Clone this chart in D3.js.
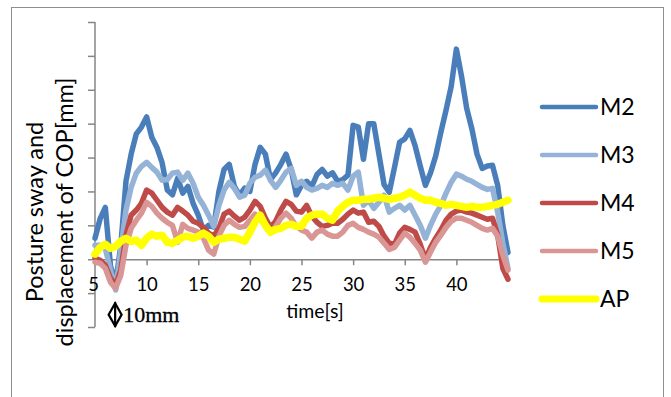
<!DOCTYPE html>
<html>
<head>
<meta charset="utf-8">
<script src="https://cdn.jsdelivr.net/npm/d3@7"></script>
<style>
  body { margin: 0; background: #fff; }
  svg { display: block; font-family: Lato, "Open Sans", sans-serif; }
</style>
</head>
<body>
<div id="canvas"></div>
<script>
// Data (time in s, displacement in mm)

let times = [5, 5.5, 6, 6.5, 7, 7.5, 8, 8.5, 9, 9.5, 10, 10.5, 11, 11.5, 12, 12.5, 13, 13.5, 14, 14.5,
  15, 15.5, 16, 16.5, 17, 17.5, 18, 18.5, 19, 19.5, 20, 20.5, 21, 21.5, 22, 22.5, 23, 23.5, 24, 24.5,
  25, 25.5, 26, 26.5, 27, 27.5, 28, 28.5, 29, 29.5, 30, 30.5, 31, 31.5, 32, 32.5, 33, 33.5, 34, 34.5,
  35, 35.5, 36, 36.5, 37, 37.5, 38, 38.5, 39, 39.5, 40, 40.5, 41, 41.5, 42, 42.5, 43, 43.5, 44, 44.5, 45];

let m2 = [6.2, 12, 15.3, -2, -7, 4, 23, 31, 37, 39, 42, 36, 33, 28.5, 20.4, 19, 23.9, 19.5, 21.5, 16.5,
  13, 8.5, 10, 9.5, 20, 26.5, 28, 21.5, 18.9, 21, 20, 28, 33, 31, 23.5, 25.5, 28, 31, 26.5, 19,
  21.8, 23, 21.5, 25, 26.5, 24.5, 25.5, 23, 23.5, 24.8, 39.5, 39, 29.5, 40, 40, 31, 22, 19.8, 27, 34.5,
  35.5, 38, 33.5, 27.5, 21.8, 25.5, 30.5, 37.5, 44, 51, 62, 54, 44.5, 38.5, 31, 26.8, 27.5, 27.7, 21.8, 10, 2];

let m3 = [4.1, 4.1, 3.2, -3.2, -9.1, 2.7, 14.5, 21.2, 25.4, 27.4, 28.6, 27.1, 25.7, 23.3, 23.5, 25.4, 25.7, 23.3, 25.4, 22.4,
  18.3, 15.9, 13, 9.7, 15.9, 20.4, 22.7, 20.9, 18.3, 18.9, 22.4, 24.2, 24.8, 26.3, 23.3, 21.2, 23.3, 25.7, 26.8, 21.8,
  23, 21.2, 20.4, 20.9, 21.8, 21.2, 22.4, 21.8, 22.4, 20.4, 24.5, 25.7, 15.9, 17.4, 15, 16.8, 18.9, 13.9, 15, 15.9,
  14.5, 15.9, 13, 10, 6.2, 10, 13.3, 15.9, 19.5, 22.7, 25.1, 24.5, 23.6, 23, 22.1, 21.2, 20.6, 20.9, 13.9, 4.7, -2.7];

let m4 = [0.3, -0.3, -1.8, -5.6, -7.7, -3.2, 7.1, 13, 14.5, 16.5, 20.4, 19.5, 17.4, 15.3, 13.9, 13, 15.3, 14.2, 13, 11.2,
  10.6, 9.4, 7.7, 6.8, 9.1, 13.3, 14.2, 12.7, 11.5, 12.4, 14.5, 17.1, 15.6, 12.1, 9.4, 11.2, 14.5, 17.1, 16.2, 14.2,
  13.9, 15.9, 12.7, 10.9, 9.7, 10, 10.6, 10.6, 11.8, 13.3, 14.5, 13.6, 13.9, 10.9, 11.2, 9.7, 6.8, 4.7, 4.4, 7.7,
  9.4, 8.8, 8, 4.4, 0, 3.5, 6.2, 8.6, 11.5, 13.3, 14.2, 14.5, 13.9, 13.6, 13, 12.4, 11.8, 12.1, 7.1, -2.7, -5.9];

let m5 = [-0.9, -1.2, -2.7, -6.8, -8.6, -4.7, 4.1, 9.1, 11.5, 13.6, 16.8, 15.6, 13.6, 12.1, 10.9, 10, 5, 10.3, 9.1, 8.6,
  8, 6.2, 2.7, 1.5, 6.8, 10, 11.5, 10.3, 9.4, 9.7, 11.5, 13.3, 12.1, 9.7, 7.7, 9.7, 12.1, 13.6, 12.1, 9.7,
  8.6, 8, 6.2, 8, 8.6, 7.4, 6.8, 6.8, 8, 10, 10.6, 9.4, 8.8, 8, 7.4, 6.5, 4.7, 2.9, 3.5, 5.6,
  7.7, 6.5, 4.7, 2.7, -0.9, 2.1, 5, 7.1, 9.4, 11.2, 12.1, 12.1, 11.5, 10.9, 10, 9.1, 8.6, 9.1, 6.8, 1.2, -3.2];

let ap = [1.5, 3.5, 4.4, 3.2, 3.8, 5.3, 6.2, 5.3, 5.6, 4.1, 6.2, 7.4, 6.8, 7.1, 5, 4.7, 5.6, 6.5, 6.8, 6.2,
  6.8, 7.7, 6.8, 5, 5.9, 6.2, 6.5, 6.5, 5.9, 5.3, 8, 10.9, 13, 10, 8, 8.8, 9.1, 10, 10.3, 9.7,
  9.7, 12.1, 13, 13.3, 13.3, 12.1, 11.5, 14.2, 15.6, 16.8, 17.4, 17.4, 17.7, 17.7, 18, 18.3, 18, 17.7, 18, 18.3,
  18.9, 19.8, 18.9, 18, 17.4, 17.4, 16.8, 16.5, 15.9, 16.2, 15.9, 15.6, 15.3, 15.6, 15.3, 15.3, 15.6, 15.9, 16.2, 16.8, 17.4];

let seriesNames = ["M2", "M3", "M4", "M5", "AP"];
let seriesValues = [m2, m3, m4, m5, ap];
let seriesColors = ["#4A7EBB", "#95B3D7", "#BE4B48", "#D99694", "#FFFF00"];
let lineWidths = [5.5, 5.5, 5.5, 5.5, 7.5];
let legendWidths = [4.5, 4.5, 4.5, 4.5, 7];

let xTicks = [5, 10, 15, 20, 25, 30, 35, 40];
let yTicks = [-20, -10, 0, 10, 20, 30, 40, 50, 60, 70];

// Titles and labels

let ylab1 = "Posture sway and";
let ylab2 = "displacement of COP[mm]";
let xlab = "time[s]";
let scaleLabel = "10mm";

// Drawing area

let W = 671, H = 397;

let svg = d3.select("#canvas")
    .append("svg")
    .attr("width", W)
    .attr("height", H);

svg.append("rect")
    .attr("x", 11.5).attr("y", 7.5)
    .attr("width", 652).attr("height", 420)
    .style("fill", "#fff")
    .style("stroke", "#8E8E8E")
    .style("stroke-width", 1);

// Scales

let xScale = d3.scaleLinear().domain([5, 45]).range([95, 508]);
let yScale = d3.scaleLinear().domain([-20, 70]).range([327, 22]);

// Axes

let yAxis = svg.append("g")
    .attr("transform", "translate(" + xScale(5) + ",0)")
    .call(d3.axisLeft(yScale).tickValues(yTicks).tickSize(7).tickFormat(""));

let xAxis = svg.append("g")
    .attr("transform", "translate(0," + yScale(0) + ")")
    .call(d3.axisBottom(xScale).tickValues(xTicks).tickSize(6).tickSizeOuter(0).tickPadding(11));

[yAxis, xAxis].forEach(g => {
  g.select(".domain").style("stroke", "#868686").style("stroke-width", 1.5);
  g.selectAll(".tick line").style("stroke", "#868686").style("stroke-width", 1.5);
});
yAxis.select(".domain").attr("d", "M0," + yScale(70) + "V" + yScale(-20));

xAxis.selectAll(".tick text")
    .style("font-family", "Lato, sans-serif")
    .style("font-size", "18.5px")
    .style("fill", "#000")
    .attr("dy", "0.8em");
xAxis.selectAll(".tick").filter(d => d === 5).select("text").attr("dx", "-2");

// Lines

let line = d3.line()
    .x((d, i) => xScale(times[i]))
    .y(d => yScale(d));

seriesValues.forEach((vals, k) => {
  svg.append("path")
      .datum(vals)
      .style("fill", "none")
      .style("stroke", seriesColors[k])
      .style("stroke-width", lineWidths[k])
      .style("stroke-linejoin", "round")
      .style("stroke-linecap", "round")
      .attr("d", line);
});

// Legend

let legend = svg.append("g");
seriesNames.forEach((name, k) => {
  let ly = 107 + k * 48;
  legend.append("line")
      .attr("x1", 542).attr("x2", 596)
      .attr("y1", ly).attr("y2", ly)
      .style("stroke", seriesColors[k])
      .style("stroke-width", legendWidths[k])
      .style("stroke-linecap", "round");
  legend.append("text")
      .attr("x", 600).attr("y", ly)
      .attr("dy", "0.36em")
      .style("font-size", "23px")
      .text(name);
});

// Axis titles

let tcy = 212;
svg.append("text")
    .attr("transform", "translate(43," + tcy + ") rotate(-90)")
    .style("font-size", "23.5px")
    .style("text-anchor", "middle")
    .text(ylab1);
svg.append("text")
    .attr("transform", "translate(73," + tcy + ") rotate(-90)")
    .style("font-size", "23.5px")
    .style("text-anchor", "middle")
    .text(ylab2);

svg.append("text")
    .attr("x", 315).attr("y", 318)
    .style("font-size", "19.5px")
    .style("text-anchor", "middle")
    .text(xlab);

// Scale marker (diamond with a bar, then "10mm")

let mx = xScale(6.95), my0 = yScale(-13), my1 = yScale(-19.7), mym = (my0 + my1) / 2;
svg.append("path")
    .attr("d", "M" + mx + "," + my0 + "L" + (mx + 6.5) + "," + mym + "L" + mx + "," + my1 + "L" + (mx - 6.5) + "," + mym + "Z")
    .style("fill", "none").style("stroke", "#000").style("stroke-width", 2.2);
svg.append("line")
    .attr("x1", mx).attr("x2", mx).attr("y1", my0 - 1).attr("y2", my1 + 1)
    .style("stroke", "#000").style("stroke-width", 2.2);
svg.append("text")
    .attr("x", mx + 8).attr("y", my1 - 4)
    .style("font-family", "'Liberation Serif', serif")
    .style("font-size", "22px")
    .style("stroke", "#000")
    .style("stroke-width", 0.3)
    .text(scaleLabel);
</script>
</body>
</html>
